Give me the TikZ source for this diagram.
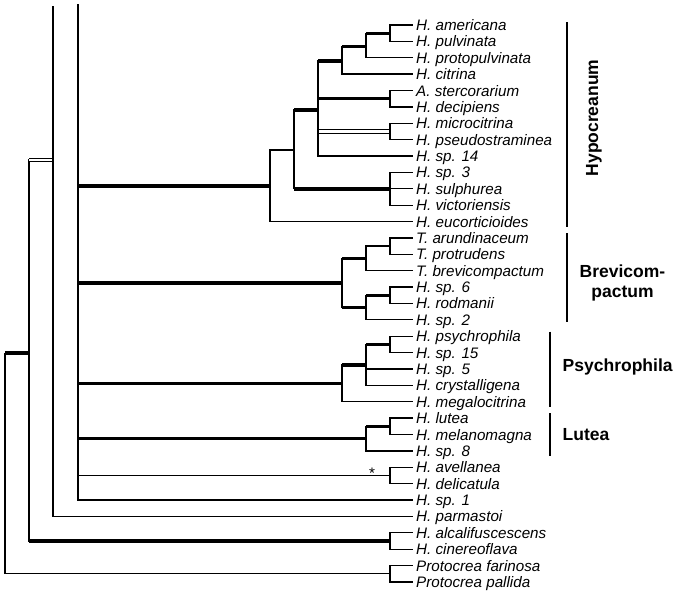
\documentclass[tikz,border=0pt]{standalone}
\usepackage{fontspec}
\setmainfont{Liberation Sans}
\usepackage{tikz}
\usetikzlibrary{positioning}
\tikzset{
	leaf/.style={anchor=west, inner xsep=3pt, inner ysep=0pt, text height=11pt, text depth=0pt,
		font=\fontsize{15.2}{16}\selectfont\itshape},
	clade/.style={font=\fontsize{17.5}{20}\selectfont\bfseries},
	br/.style={line width=1.3pt},
	thickbr/.style={line width=3.4pt},
	dblbr/.style={double, double distance=2.4pt, line width=0.9pt},
	cladebar/.style={line width=1.4pt}
}
% elbow branch: thin vertical, styled horizontal
\newcommand{\branch}[3][br]{\draw[br] (#2) |- (#3); \draw[#1] (#2 |- #3) -- (#3);}

\begin{document}
\begin{tikzpicture}[x=1pt,y=-1pt]
        \useasboundingbox (0,0) rectangle (680,595);

        % ==================================================
        % 1. LEAVES
        % ==================================================
        \foreach \nm/\txt [count=\i from 0] in {
            amer/H. americana, pulv/H. pulvinata, proto/H. protopulvinata, citr/H. citrina,
            ster/A. stercorarium, deci/H. decipiens, micr/H. microcitrina, pseu/H. pseudostraminea,
            sp14/H. sp. 14, sp3/H. sp. 3, sulp/H. sulphurea, vict/H. victoriensis, euco/H. eucorticioides,
            arun/T. arundinaceum, prot/T. protrudens, brev/T. brevicompactum, sp6/H. sp. 6,
            rodm/H. rodmanii, sp2/H. sp. 2, psyc/H. psychrophila, sp15/H. sp. 15, sp5/H. sp. 5,
            crys/H. crystalligena, mega/H. megalocitrina, lute/H. lutea, mela/H. melanomagna,
            sp8/H. sp. 8, avel/H. avellanea, deli/H. delicatula, sp1/H. sp. 1, parm/H. parmastoi,
            alca/H. alcalifuscescens, cine/H. cinereoflava, pfar/Protocrea farinosa, ppal/Protocrea pallida}
            \node[leaf] (\nm) at (413,{25+16.38*\i}) {\txt};

        % ==================================================
        % 2. INTERNAL NODES
        % ==================================================
        \coordinate (hF) at (390,33.2);
        \coordinate (hE) at (366,46.5);
        \coordinate (hD) at (342,61);
        \coordinate (hSt) at (390,98.7);
        \coordinate (hMi) at (390,131.5);
        \coordinate (hC) at (318,110);
        \coordinate (hS3) at (390,188.8);
        \coordinate (hB) at (294,150);
        \coordinate (hA) at (270,186);

        \coordinate (bJ) at (390,246.1);
        \coordinate (bH) at (366,258.4);
        \coordinate (bK) at (390,295.3);
        \coordinate (bI) at (366,307.6);
        \coordinate (bG) at (342,283);

        \coordinate (pN) at (390,344.4);
        \coordinate (pM) at (366,365);
        \coordinate (pL) at (342,383.3);

        \coordinate (lP) at (390,426.3);
        \coordinate (lO) at (366,438.6);

        \coordinate (aQ) at (390,475.45);
        \coordinate (nAlc) at (390,540.97);
        \coordinate (nPro) at (390,573.73);

        \coordinate (n5) at (5,353);
        \coordinate (n29) at (29,353);
        \coordinate (n53) at (53,160);
        \coordinate (top53) at (53,6);
        \coordinate (top78) at (78,4);

        % ==================================================
        % 3. BACKBONE
        % ==================================================
        \branch[thickbr]{n5}{n29}
        \branch{n5}{nPro}
        \branch[dblbr]{n29}{n53}
        \branch[thickbr]{n29}{nAlc}
        \branch{top53}{parm}
        \branch[thickbr]{top78}{hA}
        \branch[thickbr]{top78}{bG}
        \branch[thickbr]{top78}{pL}
        \branch[thickbr]{top78}{lO}
        \branch{top78}{aQ}
        \branch{top78}{sp1}

        % ==================================================
        % 4. HYPOCREANUM
        % ==================================================
        \branch{hA}{hB}
        \branch{hA}{euco}
        \branch[thickbr]{hB}{hC}
        \branch[thickbr]{hB}{hS3}
        \branch[thickbr]{hC}{hD}
        \branch[thickbr]{hC}{hSt}
        \branch[dblbr]{hC}{hMi}
        \branch{hC}{sp14}
        \branch[thickbr]{hD}{hE}
        \branch{hD}{citr}
        \branch[thickbr]{hE}{hF}
        \branch{hE}{proto}
        \branch{hF}{amer}
        \branch{hF}{pulv}
        \branch{hSt}{ster}
        \branch{hSt}{deci}
        \branch{hMi}{micr}
        \branch{hMi}{pseu}
        \branch{hS3}{sp3}
        \branch{hS3}{sulp}
        \branch{hS3}{vict}

        % ==================================================
        % 5. BREVICOMPACTUM
        % ==================================================
        \branch[thickbr]{bG}{bH}
        \branch[thickbr]{bG}{bI}
        \branch{bH}{bJ}
        \branch{bH}{brev}
        \branch{bJ}{arun}
        \branch{bJ}{prot}
        \branch[thickbr]{bI}{bK}
        \branch{bI}{sp2}
        \branch{bK}{sp6}
        \branch{bK}{rodm}

        % ==================================================
        % 6. PSYCHROPHILA, LUTEA AND THE REST
        % ==================================================
        \branch[thickbr]{pL}{pM}
        \branch{pL}{mega}
        \branch[thickbr]{pM}{pN}
        \branch{pM}{sp5}
        \branch{pM}{crys}
        \branch{pN}{psyc}
        \branch{pN}{sp15}

        \branch[thickbr]{lO}{lP}
        \branch{lO}{sp8}
        \branch{lP}{lute}
        \branch{lP}{mela}

        \branch{aQ}{avel}
        \branch{aQ}{deli}
        \node[anchor=base, inner sep=0pt, font=\fontsize{15.2}{16}\selectfont] (star) at (372,478.5) {*};

        \branch{nAlc}{alca}
        \branch{nAlc}{cine}
        \branch{nPro}{pfar}
        \branch{nPro}{ppal}

        % ==================================================
        % 7. CLADE BARS AND LABELS
        % ==================================================
        \draw[cladebar] (567,22) -- (567,227);
        \node[clade, rotate=90, anchor=base] (hyplab) at (598,118) {Hypocreanum};

        \draw[cladebar] (567,233) -- (567,322);
        \node[clade, align=center] (brevlab) at (622.5,283) {Brevicom-\\pactum};

        \draw[cladebar] (550,331.7) -- (550,407.3);
        \node[clade, anchor=base west, inner sep=0pt] (psylab) at (562.5,371.7) {Psychrophila};

        \draw[cladebar] (550,413.3) -- (550,456);
        \node[clade, anchor=base west, inner sep=0pt] (lutlab) at (562.5,440.7) {Lutea};

\end{tikzpicture}
\end{document}
